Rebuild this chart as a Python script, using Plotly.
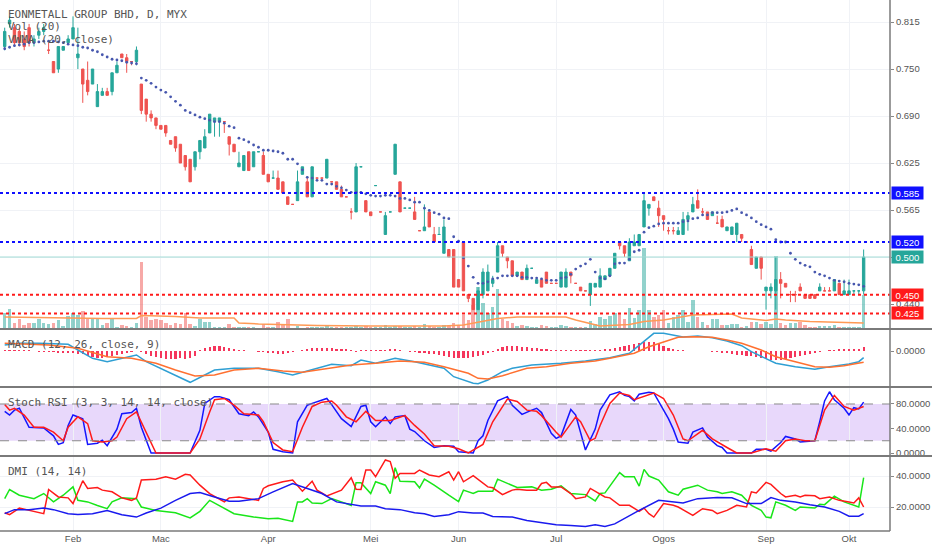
import plotly.graph_objects as go

# ---------------- data (bar index = trading day) ----------------
month_ticks = [14, 32, 54, 75, 93, 113, 135, 156, 173]
month_labels = ["Feb", "Mac", "Apr", "Mei", "Jun", "Jul", "Ogos", "Sep", "Okt"]

open_ = [
 .780,.810,.805,.800,.790,.805,.785,.795,.800,.775,
 .760,.750,.775,.785,.790,.765,.750,.735,.730,.700,
 .715,.720,.720,.745,.770,.765,.760,.760,.730,.710,
 .690,.685,.675,.675,.655,.660,.650,.635,.630,.620,
 .640,.645,.665,.680,.680,.680,.660,.650,.620,.615,
 .640,.620,.640,.635,.610,.605,.605,.600,.580,.570,
 .575,.610,.600,.580,.605,.605,.605,.600,.600,.590,
 .580,.560,.560,.620,.575,.560,.595,.560,.530,.560,
 .610,.600,.565,.565,.560,.535,.535,.560,.530,.530,
 .505,.510,.510,.470,.520,.450,.445,.430,.450,.455,
 .465,.480,.515,.500,.495,.475,.480,.470,.485,.465,
 .470,.480,.465,.465,.460,.460,.480,.465,.460,.455,
 .450,.460,.460,.470,.475,.485,.520,.515,.495,.515,
 .515,.540,.565,.580,.565,.555,.535,.535,.530,.530,
 .550,.560,.575,.560,.560,.555,.545,.550,.535,.530,
 .530,.530,.520,.510,.485,.500,.455,.455,.455,.470,
 .465,.450,.450,.460,.450,.450,.450,.455,.455,.455,
 .455,.465,.450,.450,.455,.455,.455]
high = [
 .805,.820,.810,.805,.800,.810,.795,.805,.810,.785,
 .760,.780,.780,.795,.820,.805,.750,.760,.750,.730,
 .725,.725,.745,.760,.770,.770,.760,.780,.730,.710,
 .695,.685,.675,.675,.655,.660,.650,.635,.630,.640,
 .655,.670,.690,.685,.685,.680,.660,.650,.640,.635,
 .640,.640,.640,.640,.610,.615,.615,.600,.580,.570,
 .615,.620,.605,.620,.605,.605,.630,.600,.600,.595,
 .580,.565,.625,.620,.575,.560,.595,.560,.560,.560,
 .650,.600,.565,.565,.580,.535,.570,.560,.540,.540,
 .550,.510,.510,.470,.520,.450,.445,.460,.485,.490,
 .475,.520,.515,.500,.495,.480,.480,.490,.485,.470,
 .470,.480,.465,.465,.480,.485,.480,.465,.460,.455,
 .465,.465,.485,.475,.485,.505,.520,.515,.525,.530,
 .530,.585,.570,.580,.575,.555,.540,.540,.540,.560,
 .560,.580,.590,.565,.560,.560,.555,.555,.540,.540,
 .545,.530,.520,.515,.500,.500,.460,.465,.500,.480,
 .465,.455,.455,.465,.450,.450,.450,.465,.460,.460,
 .470,.465,.470,.470,.455,.455,.510]
low = [
 .775,.805,.780,.780,.775,.780,.780,.790,.795,.770,
 .745,.745,.775,.785,.790,.750,.705,.715,.730,.700,
 .715,.715,.715,.745,.765,.745,.755,.755,.690,.680,
 .680,.670,.670,.660,.650,.640,.625,.615,.600,.615,
 .630,.645,.665,.660,.660,.665,.635,.640,.620,.615,
 .615,.620,.640,.610,.600,.605,.590,.585,.570,.570,
 .575,.610,.580,.580,.605,.605,.605,.600,.590,.580,
 .580,.550,.560,.620,.560,.555,.595,.560,.530,.560,
 .610,.560,.565,.565,.550,.535,.535,.540,.520,.530,
 .505,.500,.460,.460,.455,.440,.430,.430,.445,.455,
 .460,.480,.500,.485,.475,.475,.470,.470,.485,.465,
 .460,.465,.465,.465,.460,.460,.465,.465,.455,.455,
 .435,.460,.460,.470,.475,.485,.510,.500,.495,.515,
 .515,.540,.555,.575,.540,.535,.530,.530,.530,.530,
 .535,.560,.565,.555,.550,.555,.545,.540,.535,.530,
 .520,.520,.520,.490,.485,.470,.430,.445,.430,.445,
 .460,.440,.440,.455,.445,.445,.445,.455,.455,.455,
 .455,.450,.450,.450,.450,.450,.450]
close = [
 .800,.815,.785,.785,.780,.785,.790,.800,.805,.775,
 .745,.780,.780,.790,.805,.770,.730,.720,.750,.720,
 .720,.715,.745,.755,.765,.760,.760,.775,.695,.690,
 .685,.675,.670,.665,.650,.645,.625,.620,.600,.640,
 .655,.660,.690,.685,.685,.680,.650,.640,.625,.635,
 .615,.640,.640,.610,.600,.605,.590,.585,.570,.570,
 .600,.620,.580,.620,.605,.605,.630,.600,.590,.580,
 .580,.560,.620,.620,.560,.555,.595,.560,.555,.560,
 .650,.560,.565,.565,.550,.535,.540,.540,.520,.530,
 .540,.500,.460,.460,.455,.445,.430,.455,.480,.480,
 .470,.515,.505,.495,.475,.480,.470,.485,.485,.470,
 .460,.465,.465,.465,.480,.480,.475,.465,.455,.455,
 .465,.465,.475,.475,.485,.505,.515,.505,.520,.520,
 .530,.575,.570,.575,.555,.550,.535,.535,.535,.550,
 .555,.570,.565,.560,.550,.560,.545,.540,.540,.540,
 .545,.525,.520,.490,.500,.485,.460,.460,.470,.465,
 .460,.450,.450,.455,.445,.445,.445,.460,.455,.455,
 .470,.450,.455,.455,.455,.455,.500]
volume = [
 16,20,6,10,4,6,6,10,6,5,
 6,9,3,13,16,14,18,11,10,10,
 4,6,10,2,4,3,2,6,67,12,
 9,10,9,6,4,6,5,16,5,3,
 10,7,7,2,2,2,5,2,2,2,
 2,2,1,5,2,2,7,5,10,1,
 3,1,2,2,2,2,3,2,2,2,
 2,2,3,2,3,2,2,2,4,2,
 3,3,2,2,3,2,5,3,2,2,
 4,3,6,4,14,9,24,42,26,16,
 22,40,10,8,6,3,4,3,2,2,
 4,3,2,2,4,3,2,2,2,2,
 8,5,12,10,13,16,16,10,21,11,
 19,81,19,12,14,19,6,12,14,19,
 7,29,12,7,4,10,10,4,4,5,
 5,2,3,7,7,5,7,5,73,6,
 4,6,6,7,4,2,2,3,3,3,
 4,2,2,2,2,2,34]
vwma = [
 .777,.779,.781,.782,.783,.785,.785,.786,.787,.787,
 .787,.786,.785,.783,.782,.781,.779,.778,.775,.773,
 .769,.766,.763,.762,.761,.759,.758,.757,.738,.735,
 .731,.726,.722,.719,.713,.707,.702,.695,.692,.689,
 .686,.684,.682,.680,.680,.678,.674,.672,.658,.656,
 .653,.649,.646,.642,.642,.641,.640,.638,.630,.630,
 .624,.616,.606,.605,.602,.602,.597,.597,.594,.592,
 .589,.586,.586,.586,.584,.582,.581,.581,.582,.582,
 .581,.578,.578,.576,.573,.573,.565,.562,.559,.557,
 .552,.551,.527,.521,.499,.488,.473,.465,.465,.467,
 .471,.472,.475,.475,.475,.475,.473,.473,.472,.472,
 .471,.469,.469,.469,.472,.473,.477,.484,.488,.491,
 .497,.480,.472,.471,.475,.491,.492,.492,.497,.507,
 .509,.533,.539,.541,.544,.545,.545,.545,.545,.547,
 .548,.551,.552,.556,.556,.559,.559,.559,.560,.562,
 .564,.559,.556,.552,.547,.543,.540,.537,.523,.520,
 .520,.505,.497,.492,.489,.487,.480,.477,.475,.472,
 .469,.468,.467,.465,.464,.463,.461]
volma_x = [0,10,20,27,28,35,40,47,48,52,60,64,75,90,94,96,98,101,105,115,117,120,122,128,131,135,141,149,151,156,158,160,165,176]
volma_y = [12,11,10.5,10.5,13.5,12.5,11,11,6,5,4,3.5,3,3,4,6,8,10.5,12,12,9,5,3,4.5,7.5,9,14,15,11,8.5,10,9,7.5,6]

level_prices = [0.585, 0.520, 0.450, 0.425]
level_colors = ["#1010ff", "#1010ff", "#ff1a1a", "#ff1a1a"]
level_texts = ["0.585", "0.520", "0.450", "0.425"]

price_tickvals = [0.4375, 0.5, 0.5625, 0.625, 0.6875, 0.75, 0.8125]
price_ticktext = ["0.440", "0.500", "0.565", "0.625", "0.690", "0.750", "0.815"]

macd_x = [0,3,7,13,15,18,21,24,27,29,32,35,38,41,43,47,52,56,59,62,67,71,73,76,80,84,87,90,92,95,96,97,99,102,104,108,114,119,124,128,130,133,135,139,142,145,148,151,153,156,158,162,166,169,173,175,176]
macd_y = [.0060,.0077,.0077,.0067,.0010,-.0073,-.0107,-.0073,-.0040,-.0107,-.0173,-.0240,-.0313,-.0240,-.0190,-.0173,-.0173,-.0207,-.0240,-.0200,-.0133,-.0147,-.0090,-.0123,-.0073,-.0107,-.0140,-.0173,-.0257,-.0307,-.0323,-.0327,-.0290,-.0207,-.0173,-.0140,-.0123,-.0100,-.0067,-.0023,.0060,.0177,.0177,.0140,.0150,.0133,.0100,.0053,-.0007,-.0073,-.0123,-.0157,-.0183,-.0157,-.0130,-.0107,-.0067]
signal_x = [0,9,15,21,26,31,35,39,43,47,52,57,61,66,71,76,81,86,90,95,97,99,102,107,111,116,121,124,129,132,136,138,141,145,148,151,155,158,162,166,169,172,176]
signal_y = [.0077,.0060,.0027,-.0057,-.0073,-.0123,-.0190,-.0250,-.0240,-.0190,-.0173,-.0200,-.0213,-.0173,-.0140,-.0123,-.0100,-.0113,-.0157,-.0223,-.0273,-.0280,-.0247,-.0173,-.0157,-.0123,-.0100,-.0073,-.0023,.0043,.0110,.0137,.0143,.0137,.0110,.0077,.0010,-.0057,-.0107,-.0157,-.0163,-.0147,-.0113]
macd_hist = [
 .5,.5,.5,.5,.3,.2,0,-.3,-.5,-.7,
 -1,-1.5,-2,-2,-2,-2.5,
 -3,-5,-6,-7,-7,-6,-5,-4,-3,-2,-1,
 0,-1,-2.5,
 -5,-6,-7,-8,-8,-8,-7,-8,-7,-5,
 1,3,4,5,5,4,3,2,
 1,.5,0,0,-.5,-1,
 -2,-2,-2.5,-2.5,-2,-1,
 0,1,
 2,3,3,3.5,3,3,2.5,2,1.5,
 .5,-.5,1,1,.5,.5,1,1,1.5,2,
 1,0,-.5,
 -1,-1.5,-2,-2.5,-3,-4,-5,-6,-7,-7,-7,-7,
 -6,-5,-4,-2,-1,
 2,4,5,5,5,4.5,4,3.5,3,2.5,
 1.5,1,1,1,1,.5,.5,.5,.5,1,1,1,1.5,2,
 3,4,5,6,7,8,9,9,9,8,
 5,3,2,
 1,.5,0,0,0,0,0,-.5,
 -1,-1.5,-2,-3,-3.5,-4,-4.5,-5,
 -6,-7,-8,-9,-9,-9,-8,-7,-6,
 -5,-4,-3,-2,-1,
 0,.5,1,1.5,1.5,2,2,2.5,4]  # in thousandths

stoch_k_x = [0,1,2,3,5,8,10,11,12,13,14,16,17,19,20,21,23,24,26,27,28,30,38,40,41,43,44,46,48,50,51,52,54,55,57,59,60,62,63,65,66,67,69,71,73,74,75,76,78,79,80,82,83,84,86,88,90,92,93,96,97,98,99,101,103,104,106,108,109,110,112,113,114,116,117,119,120,121,122,123,124,126,127,128,129,130,132,133,134,136,137,138,140,141,143,144,146,147,148,153,154,156,157,159,160,162,163,166,167,168,169,170,172,173,174,175,176]
stoch_k_y = [68,62,70,73,42,41,28,14,17,45,62,56,14,16,21,12,39,64,66,73,42,0,0,37,81,92,92,87,64,61,67,59,34,6,2,0,51,78,81,87,89,79,56,43,76,78,51,43,59,48,59,61,39,35,20,9,12,11,2,0,20,28,53,85,92,78,63,70,73,66,32,24,28,71,62,5,23,39,70,83,95,100,94,92,85,96,99,98,84,56,39,18,16,34,41,26,12,9,0,0,6,6,3,17,27,23,18,20,51,85,100,87,73,62,74,72,83]
stoch_d_x = [0,1,2,4,6,8,10,12,13,15,17,18,20,22,23,25,27,29,31,38,40,42,43,45,47,49,52,53,55,57,59,61,63,65,67,68,70,72,74,76,79,82,84,86,88,91,93,95,98,100,103,105,107,109,110,113,114,117,118,120,121,122,124,126,128,129,131,133,135,137,139,140,143,145,148,150,153,156,158,160,162,164,166,168,170,172,174,176]
stoch_d_y = [79,70,73,62,42,42,34,20,42,59,48,20,18,20,26,56,67,34,0,0,23,67,87,89,78,64,62,51,17,5,2,42,76,83,85,78,59,51,68,53,53,61,45,31,12,11,7,0,14,51,88,84,70,68,61,34,26,59,51,20,24,45,81,98,94,87,92,98,89,62,23,20,37,23,9,0,0,7,3,20,23,20,20,70,94,76,70,76]

dip_x = [0,1,3,6,8,10,12,14,15,17,19,21,22,24,27,28,31,35,38,40,42,44,47,51,54,56,59,60,61,62,63,65,67,69,71,72,73,75,76,78,79,80,81,84,85,86,88,91,93,94,96,97,100,101,103,105,108,110,112,114,116,119,121,122,123,126,127,129,130,131,132,134,136,138,139,142,144,146,147,149,151,153,155,156,157,158,160,162,163,166,167,168,170,172,175,176]
dip_y = [25.4,31.3,27.6,25.4,28.7,23.3,27.6,33,24.3,23.3,21,18.9,23.3,25.9,25.4,20,17.8,16.3,13,17.2,24.3,21,15.7,13.5,12.4,12.8,10.7,23.3,23.3,25.4,22.6,22.2,25.4,23.3,21,35.7,35.7,28.7,36.3,34.1,28.7,45.4,36.7,36.3,32.4,38,34.1,27.6,23.5,30.9,28.7,30.2,30.2,38,35.2,32.6,33,30.9,31.5,33.7,28.7,28,23.9,28.7,29.1,42.2,39.6,39.6,33.5,44.3,40,37.4,29.8,27.6,31.5,34.1,30.9,29.8,28.7,29.8,27.6,21.1,17.8,13.5,13,23.3,21.1,17.8,20,19.3,21.7,21.5,27,23.3,20,38.9]
dim_x = [0,1,3,5,8,9,11,13,14,16,17,19,20,22,24,26,27,28,31,33,35,37,38,40,42,45,46,48,50,52,53,54,57,59,61,63,64,66,69,71,72,73,74,75,76,78,79,80,81,84,85,87,89,91,92,93,94,96,99,100,102,104,105,107,109,110,111,112,114,116,117,119,120,123,124,126,128,130,131,132,133,135,137,138,141,143,145,146,148,150,152,153,154,156,157,159,160,162,163,164,166,167,169,171,173,174,175,176]
dim_y = [16.3,15,19.3,17.8,15.7,31.3,26.5,25.9,22.2,37,32,32.6,30.9,29.8,25.9,24.3,25.9,37.4,38,39.6,38,41.1,40.7,34.1,28.7,23.3,25.9,26.5,25.4,24.3,32,33.7,36.3,37.4,30.2,36.7,30.9,27.2,30.9,38.9,31.5,31.3,43.9,43.9,39.6,50.4,49.3,38.5,41.7,41.7,43.9,40.7,39.6,42.8,37.4,42.8,36.3,40.2,33,32.4,28,30.9,31.5,30.9,30.9,35.2,35.9,33,33,28.7,25.4,26.5,32,26.5,25.9,21.1,21.1,17.2,19.3,15.7,13.5,22.2,21.1,20,14.6,18.9,17.8,15.7,17.8,21.1,20,29.8,29.1,35.9,34.6,28.7,26.5,27.6,26.5,27.6,27.2,25.4,26.5,24.3,23.3,22.6,25.9,20]
adx_x = [0,2,5,8,10,13,15,18,21,24,27,29,32,35,38,40,43,46,48,52,55,59,62,65,68,70,73,76,78,81,84,86,88,91,93,96,98,100,104,107,110,113,116,119,121,123,125,128,130,134,136,139,142,146,149,152,155,157,159,162,165,168,171,173,175,176]
adx_y = [15.7,18.3,18.3,19.3,18.3,15.7,15.2,15.7,17.8,15,13.5,16.1,19.3,24.3,28.7,29.3,26.5,23.7,23.7,25.4,29.8,35.2,32,28.7,23.3,22.2,20.7,20.7,18.9,18.3,16.3,15.7,13.9,15,17,16.1,16.1,13.9,13.5,11.3,9.8,8.5,8,7.4,8.5,7.4,9.1,14.6,17.8,24.3,23.7,22.6,25.4,26.1,25.9,22.2,22.2,26.1,24.3,23.3,21.5,20,17.2,14.1,14.1,15.7]

# ---------------- figure ----------------
bars = list(range(len(close)))
up = "#26a69a"
dn = "#ef5350"
grid = "#f0f2f6"
xr = [-0.96, 181.4]

fig = go.Figure()

vol_colors = ["rgba(38,166,154,0.5)" if c >= o else "rgba(239,83,80,0.5)" for o, c in zip(open_, close)]
fig.add_trace(go.Bar(x=bars, y=volume, marker_color=vol_colors, marker_line_width=0,
                     width=0.72, xaxis="x", yaxis="y"))
fig.add_trace(go.Scatter(x=volma_x, y=volma_y, mode="lines", line=dict(color="#ff9a55", width=1.5),
                         xaxis="x", yaxis="y"))
fig.add_trace(go.Candlestick(x=bars, open=open_, high=high, low=low, close=close,
                             increasing=dict(line=dict(color=up, width=1), fillcolor=up),
                             decreasing=dict(line=dict(color=dn, width=1), fillcolor=dn),
                             whiskerwidth=0, xaxis="x", yaxis="y2"))
fig.add_trace(go.Scatter(x=bars, y=vwma, mode="markers",
                         marker=dict(color="#4757ae", size=2.8, symbol="circle"),
                         xaxis="x", yaxis="y2"))

# MACD
fig.add_trace(go.Bar(x=bars, y=[h / 1000 for h in macd_hist], marker_color="#f5365c",
                     marker_line_width=0, width=0.45, xaxis="x2", yaxis="y3"))
fig.add_trace(go.Scatter(x=macd_x, y=macd_y, mode="lines", line=dict(color="#2f9fd3", width=1.5),
                         xaxis="x2", yaxis="y3"))
fig.add_trace(go.Scatter(x=signal_x, y=signal_y, mode="lines", line=dict(color="#ff7030", width=1.5),
                         xaxis="x2", yaxis="y3"))

# Stoch RSI
fig.add_trace(go.Scatter(x=stoch_k_x, y=stoch_k_y, mode="lines", line=dict(color="#1515ff", width=1.5),
                         xaxis="x3", yaxis="y4"))
fig.add_trace(go.Scatter(x=stoch_d_x, y=stoch_d_y, mode="lines", line=dict(color="#ff1a1a", width=1.5),
                         xaxis="x3", yaxis="y4"))

# DMI
fig.add_trace(go.Scatter(x=dip_x, y=dip_y, mode="lines", line=dict(color="#19e619", width=1.5),
                         xaxis="x4", yaxis="y5"))
fig.add_trace(go.Scatter(x=dim_x, y=dim_y, mode="lines", line=dict(color="#ff1a1a", width=1.5),
                         xaxis="x4", yaxis="y5"))
fig.add_trace(go.Scatter(x=adx_x, y=adx_y, mode="lines", line=dict(color="#1a1aee", width=1.5),
                         xaxis="x4", yaxis="y5"))

shapes = []
# stoch band + bounds
shapes.append(dict(type="rect", xref="x3 domain", yref="y4", x0=0, x1=1, y0=20, y1=80,
                   fillcolor="#e8d8fb", line=dict(width=0), layer="below"))
for lv in (20, 80):
    shapes.append(dict(type="line", xref="x3 domain", yref="y4", x0=0, x1=1, y0=lv, y1=lv,
                       line=dict(color="#8a8a8a", width=1, dash="dash")))
# last price line
shapes.append(dict(type="line", xref="x domain", yref="y2", x0=0, x1=1, y0=close[-1], y1=close[-1],
                   line=dict(color="#a3dcd6", width=1)))
# support / resistance levels
for p, c in zip(level_prices, level_colors):
    shapes.append(dict(type="line", xref="x domain", yref="y2", x0=0, x1=1, y0=p, y1=p,
                       line=dict(color=c, width=2, dash="dot")))

# pane separators and borders
main_lo = 1 - 329 / 531
macd_lo, macd_hi = 1 - 387 / 531, 1 - 330 / 531
st_lo, st_hi = 1 - 456 / 531, 1 - 388 / 531
dmi_hi = 1 - 457 / 531
for yy in (main_lo, macd_lo, st_lo):
    shapes.append(dict(type="line", xref="paper", yref="paper", x0=0, x1=1.05, y0=yy, y1=yy,
                       line=dict(color="#7a7a7a", width=2)))
shapes.append(dict(type="line", xref="paper", yref="paper", x0=0, x1=1, y0=0, y1=0,
                   line=dict(color="#7a7a7a", width=1.5)))
shapes.append(dict(type="line", xref="paper", yref="paper", x0=1, x1=1, y0=0, y1=1,
                   line=dict(color="#7a7a7a", width=1.5)))

annotations = []
mono = dict(family="DejaVu Sans Mono", size=11, color="#555555")
for txt, yy in (("EONMETALL GROUP BHD, D, MYX", 1 - 14.5 / 531), ("Vol (20)", 1 - 27 / 531),
                ("VWMA (20, close)", 1 - 39.5 / 531), ("MACD (12, 26, close, 9)", 1 - 344.5 / 531),
                ("Stoch RSI (3, 3, 14, 14, close)", 1 - 402.5 / 531), ("DMI (14, 14)", 1 - 471 / 531)):
    annotations.append(dict(text=txt, xref="paper", yref="paper", x=6 / 890, y=yy, xanchor="left",
                            yanchor="middle", showarrow=False, font=mono))
box_font = dict(family="Liberation Sans", size=9.5, color="white")
for p, c, t in zip(level_prices, level_colors, level_texts):
    annotations.append(dict(text=t, xref="paper", yref="y2", x=1, y=p, xanchor="left", yanchor="middle",
                            showarrow=False, bgcolor=c, font=box_font, borderpad=1, width=29,
                            height=10, xshift=1))
annotations.append(dict(text="%.3f" % close[-1], xref="paper", yref="y2", x=1, y=close[-1], xanchor="left",
                        yanchor="middle", showarrow=False, bgcolor=up, font=box_font, borderpad=1,
                        width=29, height=10, xshift=1))

xcommon = dict(range=xr, tickvals=month_ticks, showgrid=True, gridcolor=grid, zeroline=False,
               showline=False, fixedrange=True, domain=[0, 1])
ycommon = dict(side="right", showline=False, zeroline=False, ticks="outside", ticklen=3,
               tickcolor="#888888", fixedrange=True, tickfont=dict(family="Liberation Sans", size=9.5, color="#555555"))

fig.update_layout(
    width=932, height=550, margin=dict(l=0, r=42, t=0, b=19),
    paper_bgcolor="white", plot_bgcolor="white", showlegend=False,
    font=dict(family="Liberation Sans", size=9.5, color="#555555"),
    xaxis=dict(**xcommon, anchor="y", showticklabels=False, rangeslider=dict(visible=False)),
    xaxis2=dict(**xcommon, anchor="y3", matches="x", showticklabels=False),
    xaxis3=dict(**xcommon, anchor="y4", matches="x", showticklabels=False),
    xaxis4=dict(**xcommon, anchor="y5", matches="x", showticklabels=True, ticktext=month_labels,
                ticks="", tickfont=dict(family="Liberation Sans", size=9.5, color="#555555")),
    yaxis=dict(domain=[main_lo, 1], range=[0, 329], visible=False, anchor="x", fixedrange=True),
    yaxis2=dict(**ycommon, overlaying="y", anchor="x", range=[0.4043, 0.8418],
                tickvals=price_tickvals, ticktext=price_ticktext, showgrid=True, gridcolor=grid),
    yaxis3=dict(**ycommon, domain=[macd_lo, macd_hi], anchor="x2", range=[-0.036, 0.021],
                tickvals=[0], ticktext=["0.0000"], showgrid=False),
    yaxis4=dict(**ycommon, domain=[st_lo, st_hi], anchor="x3", range=[-4.9, 106.1],
                tickvals=[0, 40, 80], ticktext=["0.0000", "40.0000", "80.0000"], showgrid=False),
    yaxis5=dict(**ycommon, domain=[0, dmi_hi], anchor="x4", range=[4.5, 52.3],
                tickvals=[20, 40], ticktext=["20.0000", "40.0000"], showgrid=True, gridcolor=grid),
    shapes=shapes, annotations=annotations, bargap=0,
)

fig.write_html("out.html", config={"displayModeBar": False},
               post_script="document.body.style.margin='0px';document.body.style.overflow='hidden';")
